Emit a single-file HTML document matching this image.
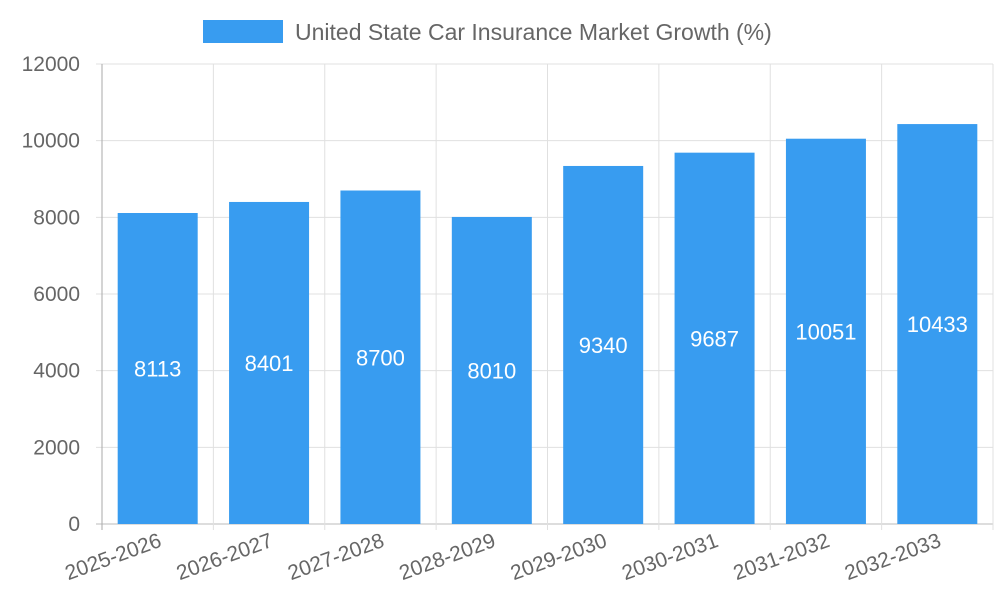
<!DOCTYPE html>
<html><head><meta charset="utf-8"><style>
html,body{margin:0;padding:0;background:#fff;width:1000px;height:600px;overflow:hidden}
svg{display:block;font-family:"Liberation Sans",sans-serif}
</style></head><body>
<svg id="chart" width="1000" height="600">
<g>
<rect x="203" y="20" width="80" height="23" fill="#389cf0"></rect>
<text x="295" y="40" font-size="23" fill="#666">United State Car Insurance Market Growth (%)</text>
</g>
<g id="grid"></g><g id="bars"></g><g id="labels"></g>
</svg>
<script>
const categories=["2025-2026","2026-2027","2027-2028","2028-2029","2029-2030","2030-2031","2031-2032","2032-2033"];
const values=[8113,8401,8700,8010,9340,9687,10051,10433];
const yTicks=[0,2000,4000,6000,8000,10000,12000];
const X0=102,X1=993,Y0=524,Y1=64,YMAX=12000;
const NS="http://www.w3.org/2000/svg";
const bw=(X1-X0)/categories.length;
const y=v=>Y0-(v/YMAX)*(Y0-Y1);
const xc=i=>X0+bw*(i+0.5);
function mk(t,a,p){const e=document.createElementNS(NS,t);for(const k in a)e.setAttribute(k,a[k]);p.appendChild(e);return e;}
const g=document.getElementById('grid'),b=document.getElementById('bars'),l=document.getElementById('labels');
yTicks.forEach(v=>{
 const ln=mk('line',{x1:X0-6,x2:X1,y1:y(v),y2:y(v),stroke:v===0?'#bbb':'#e0e0e0','stroke-width':1},g);
 
 
 const t=mk('text',{x:X0-22,y:y(v)+7,'text-anchor':'end','font-size':21,fill:'#666'},g);
 t.textContent=v;
 
 
});
for(let i=0;i<=categories.length;i++){
 const x=X0+bw*i;
 const ln=mk('line',{x1:x,x2:x,y1:Y1,y2:Y0+6,stroke:i===0?'#aaa':'#e0e0e0','stroke-width':1},g);
 
 
}
categories.forEach((c,i)=>{
 const r=mk('rect',{x:xc(i)-40,y:y(values[i]),width:80,height:Y0-y(values[i]),fill:'#389cf0'},b);
 
 
 const t=mk('text',{x:xc(i),y:(y(values[i])+Y0)/2+8,'text-anchor':'middle','font-size':22,fill:'#fff'},l);
 t.textContent=values[i];
 
 
 const xl=xc(i)+5,yl=Y0+22;
 const tx=mk('text',{x:xl,y:yl,'text-anchor':'end','font-size':21,fill:'#666',transform:`rotate(-20 ${xl} ${yl})`},l);
 tx.textContent=c;
 
 
});
</script>
</body></html>
